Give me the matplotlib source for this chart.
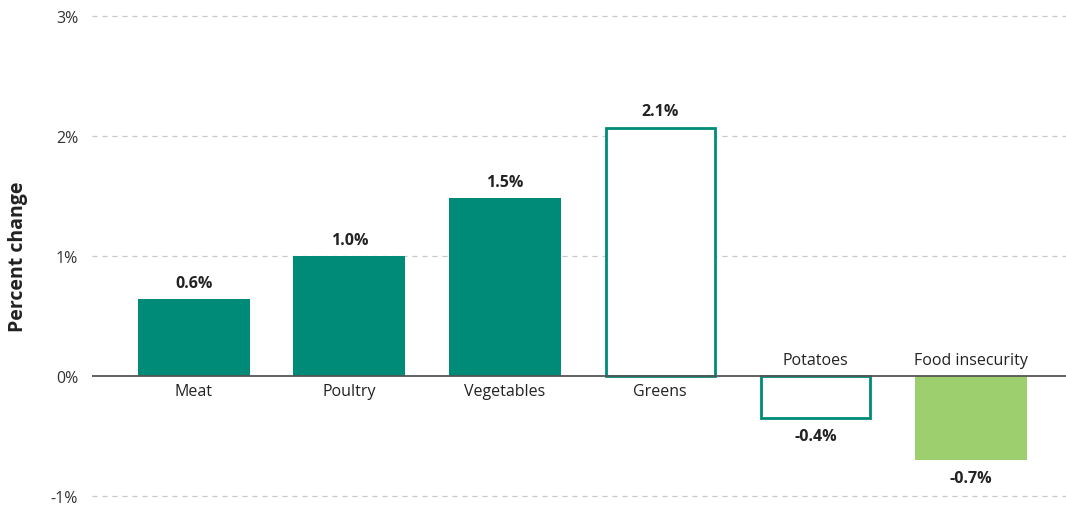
import matplotlib
matplotlib.use("Agg")
import matplotlib.pyplot as plt

categories = ["Meat", "Poultry", "Vegetables", "Greens", "Potatoes", "Food insecurity"]
values = [0.64, 1.0, 1.48, 2.07, -0.35, -0.70]
value_labels = ["0.6%", "1.0%", "1.5%", "2.1%", "-0.4%", "-0.7%"]
styles = ["solid", "solid", "solid", "outline", "outline", "light"]
yticks = [-1, 0, 1, 2, 3]
ytick_labels = ["-1%", "0%", "1%", "2%", "3%"]

TEAL = "#008b78"
LIGHT = "#9dcf6e"

plt.rcParams['font.family'] = ['Open Sans', 'DejaVu Sans']

W, H = 1066, 510
fig = plt.figure(figsize=(W / 100, H / 100), dpi=100)
ax_left, ax_right = 92, 1066
ylo, yhi = -1.1, 3.1
px_per = 120
top_px = 17 - (yhi - 3) * px_per
bot_px = 497 + (-1 - ylo) * px_per
ax = fig.add_axes([ax_left / W, 1 - bot_px / H, (ax_right - ax_left) / W, (bot_px - top_px) / H])

x = list(range(len(categories)))
for xi, v, st in zip(x, values, styles):
    if st == "solid":
        ax.bar(xi, v, width=0.72, color=TEAL, zorder=3)
    elif st == "light":
        ax.bar(xi, v, width=0.72, color=LIGHT, zorder=3)
    else:
        ax.bar(xi, v, width=0.70, facecolor="white", edgecolor=TEAL, linewidth=2, zorder=3)

ax.set_xlim(-0.656, 5.61)
ax.set_ylim(ylo, yhi)
ax.set_yticks(yticks)
ax.set_yticklabels(ytick_labels, fontsize=11.5, color="#333333")
ax.set_xticks([])
for t in yticks:
    if t != 0:
        ax.axhline(t, color="#c8c8c8", linestyle=(0, (4, 4)), linewidth=0.9, zorder=1)
ax.axhline(0, color="#555555", linewidth=1.3, zorder=4)
ax.tick_params(axis="y", length=0, pad=10)
for s in ax.spines.values():
    s.set_visible(False)

for xi, v, lab, cat in zip(x, values, value_labels, categories):
    if v >= 0:
        ax.annotate(lab, (xi, v), xytext=(0, 6), textcoords="offset points",
                    ha="center", va="bottom", fontsize=11.5, fontweight="bold", color="#222222")
        ax.annotate(cat, (xi, 0), xytext=(0, -5), textcoords="offset points",
                    ha="center", va="top", fontsize=11.5, color="#222222")
    else:
        ax.annotate(lab, (xi, v), xytext=(0, -7), textcoords="offset points",
                    ha="center", va="top", fontsize=11.5, fontweight="bold", color="#222222")
        ax.annotate(cat, (xi, 0), xytext=(0, 6), textcoords="offset points",
                    ha="center", va="bottom", fontsize=11.5, color="#222222")

fig.text(18 / W, 1 - 257 / H, "Percent change", rotation=90, ha="center", va="center",
         fontsize=14, fontweight="bold", color="#222222")

fig.savefig("out.png", dpi=100)
